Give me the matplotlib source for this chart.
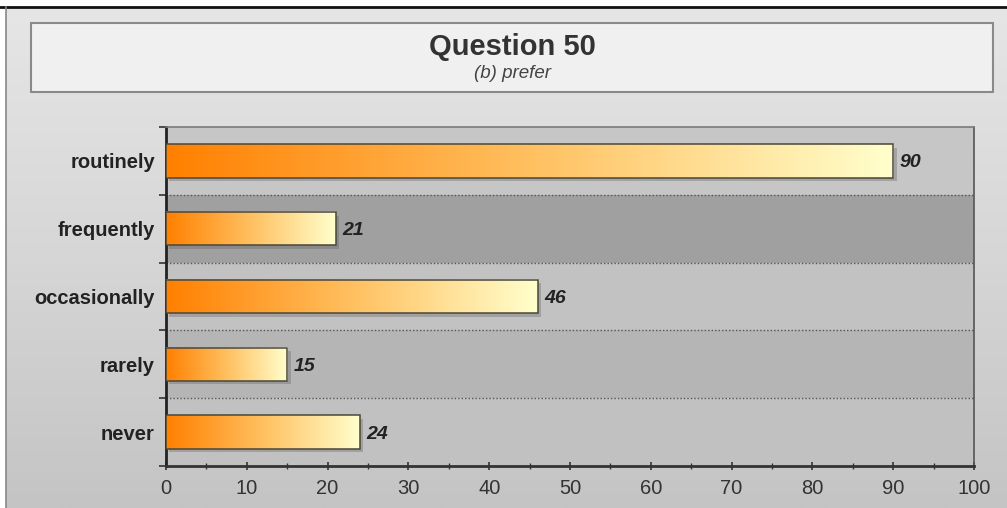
import numpy as np
import matplotlib
matplotlib.use("Agg")
import matplotlib.pyplot as plt
from matplotlib.colors import LinearSegmentedColormap
from matplotlib.patches import Rectangle
from matplotlib.transforms import ScaledTranslation

plt.rcParams['font.family'] = ['Liberation Sans', 'DejaVu Sans']

# data, top to bottom
categories = ['routinely', 'frequently', 'occasionally', 'rarely', 'never']
values = [90, 21, 46, 15, 24]
title = 'Question 50'
subtitle = '(b) prefer'
x_ticks = [0, 10, 20, 30, 40, 50, 60, 70, 80, 90, 100]

band_colors = ['#c6c6c6', '#a0a0a0', '#c2c2c2', '#b5b5b5', '#c1c1c1']
bar_cmap = LinearSegmentedColormap.from_list('bar', ['#ff8000', '#ffc060', '#ffffcc'])

fig = plt.figure(figsize=(10.07, 5.08), dpi=100)
fig.patch.set_facecolor('white')

# background panel with gradient
bg = fig.add_axes([6 / 1007, 0, 1 - 6 / 1007, 1 - 7 / 508])
bg_cmap = LinearSegmentedColormap.from_list('bg', ['#e6e6e6', '#d6d6d6', '#c4c4c4'])
bg.imshow(np.linspace(0, 1, 256).reshape(-1, 1), aspect='auto', cmap=bg_cmap,
          extent=(0, 1, 0, 1), origin='upper')
bg.set_xlim(0, 1)
bg.set_ylim(0, 1)
bg.axis('off')
fig.add_artist(plt.Line2D([0, 1], [1 - 7 / 508, 1 - 7 / 508], color='#111111', lw=2))
fig.add_artist(plt.Line2D([6 / 1007, 6 / 1007], [0, 1 - 7 / 508], color='#888888', lw=1.2))

# title box
fig.add_artist(Rectangle((31 / 1007, 1 - 92 / 508), (993 - 31) / 1007, (92 - 23) / 508,
                         transform=fig.transFigure, facecolor='#f0f0f0',
                         edgecolor='#8a8a8a', lw=1.5))
fig.text(0.509, 1 - 47 / 508, title, ha='center', va='center', fontsize=21,
         fontweight='bold', color='#333333')
fig.text(0.509, 1 - 73 / 508, subtitle, ha='center', va='center', fontsize=13.5,
         style='italic', color='#444444')

ax = fig.add_axes([166 / 1007, 1 - 466 / 508, (974 - 166) / 1007, (466 - 127) / 508])
n = len(categories)
ypos = np.arange(n)[::-1]

for y, c in zip(ypos, band_colors):
    ax.axhspan(y - 0.5, y + 0.5, color=c, zorder=0, lw=0)
for b in np.arange(n - 1) + 0.5:
    ax.axhline(b, color='#555555', lw=1, ls=(0, (1, 1.5)), zorder=1)

h = 0.49
# shadows
shadow = ax.barh(ypos, values, height=h, color='#555555', alpha=0.3, lw=0, zorder=2)
for p in shadow:
    p.set_transform(ax.transData + ScaledTranslation(2.5 / 72, -2.5 / 72, fig.dpi_scale_trans))

grad = np.linspace(0, 1, 256).reshape(1, -1)
bars = ax.barh(ypos, values, height=h, color='none', edgecolor='#4a473a', lw=1.1, zorder=4)
for p, v, y in zip(bars, values, ypos):
    ax.imshow(grad, aspect='auto', cmap=bar_cmap, extent=(0, v, y - h / 2, y + h / 2),
              zorder=3, interpolation='bicubic')
    ax.text(v + 0.8, y, str(v), ha='left', va='center_baseline', fontsize=14,
            fontweight='bold', style='italic', color='#222222', zorder=5)

ax.set_xlim(0, 100)
ax.set_ylim(-0.5, n - 0.5)
ax.set_xticks(x_ticks)
ax.set_xticks(np.arange(5, 100, 10), minor=True)
ax.set_yticks(ypos)
ax.set_yticklabels(categories, va='center_baseline')
ax.set_yticks(np.arange(n + 1) - 0.5, minor=True)
ax.tick_params(axis='y', which='major', length=0, pad=8, labelsize=14.5, labelcolor='#222222')
for t in ax.get_yticklabels():
    t.set_fontweight('bold')
ax.tick_params(axis='y', which='minor', length=5, width=1.2, color='#333333', direction='out')
ax.tick_params(axis='x', which='major', length=6, width=1.2, direction='inout',
               labelsize=14.5, labelcolor='#333333', color='#333333', pad=6)
ax.tick_params(axis='x', which='minor', length=4, width=1, direction='inout', color='#333333')

ax.spines['left'].set_color('#222222')
ax.spines['left'].set_linewidth(2)
ax.spines['bottom'].set_color('#333333')
ax.spines['bottom'].set_linewidth(2)
ax.spines['top'].set_color('#7a7a7a')
ax.spines['right'].set_color('#555555')
ax.spines['top'].set_linewidth(1.2)
ax.spines['right'].set_linewidth(1.2)

fig.savefig('out.png', dpi=100)
